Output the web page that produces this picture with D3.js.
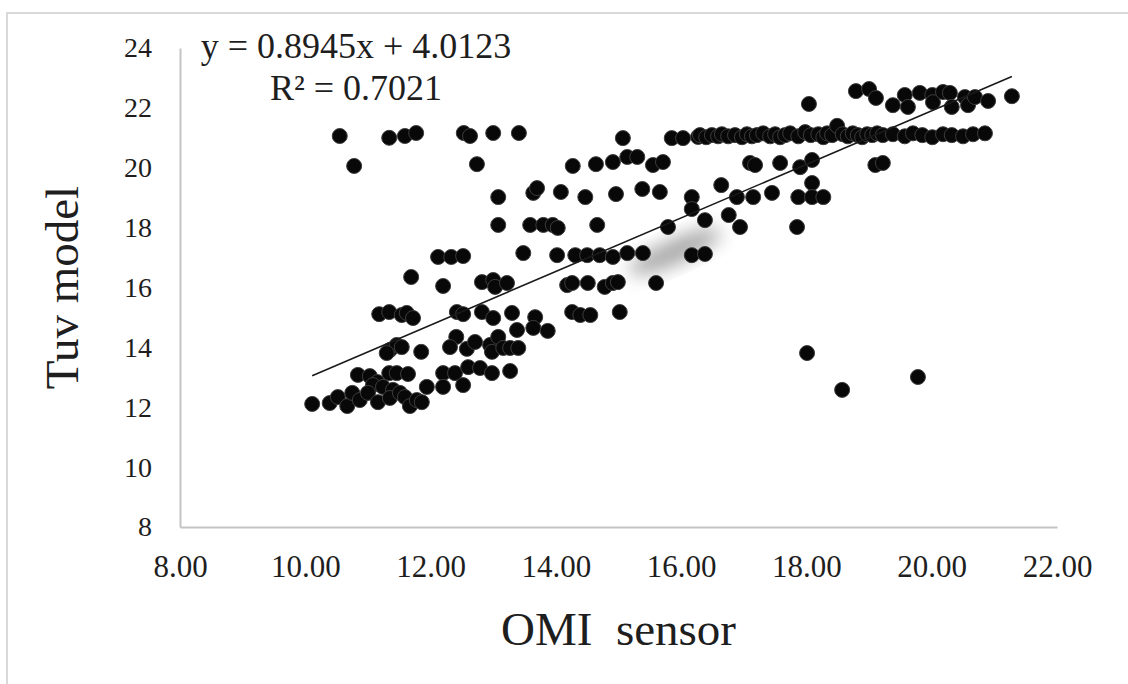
<!DOCTYPE html>
<html>
<head>
<meta charset="utf-8">
<script src="https://d3js.org/d3.v7.min.js"></script>
<style>
  body { margin: 0; background: #fff; }
  text { font-family: "Liberation Serif", "Times New Roman", serif; fill: #1e1e1e; }
</style>
</head>
<body>
<script>

// OMI sensor (x) vs Tuv model (y)
var leftOutliers = [
  [10.55,21.06],[10.78,20.06],[11.34,21.00],[11.59,21.06],[11.77,21.16],
  [12.53,21.16],[12.63,21.06],[12.74,20.12],[13.00,21.16],[13.41,21.16]
];

var midBand = [
  [13.08,19.02],[13.08,18.09],[12.12,17.02],[12.33,17.02],[12.52,17.05],
  [11.69,16.35],[12.20,16.05],[12.82,16.18],[13.00,16.25],[13.03,16.02],[13.22,16.15],
  [14.18,16.08],[14.26,16.15],[14.51,16.15],[14.78,16.02],[14.91,16.15],[14.99,16.18],[15.60,16.15],
  [14.27,20.06],[14.64,20.12],[14.91,20.19],[15.14,20.36],[15.30,20.36],[15.55,20.09],[15.71,20.19],
  [13.64,19.16],[13.70,19.32],[14.08,19.19],[14.47,19.02],[14.96,19.12],[15.38,19.29],[15.66,19.19],[16.17,19.02],
  [13.59,18.09],[13.80,18.09],[13.95,18.09],[14.03,17.99],[14.66,18.09],[15.79,18.02],[16.17,18.62],
  [13.48,17.15],[14.02,17.08],[14.31,17.08],[14.50,17.08],[14.70,17.08],[14.91,17.02],[15.14,17.15],
  [15.39,17.15],[16.17,17.08],[16.38,17.12]
];

var lowBand = [
  [11.18,15.11],[11.34,15.18],[11.54,15.08],[11.62,15.15],[11.72,14.98],[12.42,15.18],[12.52,15.11],
  [12.82,15.18],[13.00,14.98],[13.30,15.15],[13.67,15.01],[14.26,15.18],[14.39,15.08],[14.55,15.08],[15.02,15.18],
  [12.41,14.35],[12.31,14.01],[12.58,13.95],[12.71,14.18],[12.95,14.08],[12.98,13.85],[13.08,14.35],
  [11.35,13.91],[11.46,14.08],[11.54,14.01],[11.30,13.81],[11.85,13.85],[13.38,14.58],[13.64,14.65],
  [13.87,14.55],[13.16,13.98],[13.27,13.98],[13.40,13.98],
  [10.84,13.08],[11.03,13.04],[11.34,13.14],[11.46,13.14],[11.64,13.11],[11.15,12.84],[12.20,13.14],
  [12.39,13.14],[12.60,13.34],[12.79,13.31],[12.98,13.14],[12.52,12.74],[12.20,12.68],[11.94,12.68],
  [13.27,13.21],[11.08,12.74],[11.24,12.68],[11.40,12.58],
  [10.11,12.11],[10.39,12.14],[10.52,12.34],[10.67,12.04],[10.75,12.48],[10.87,12.24],[11.00,12.48],
  [11.16,12.17],[11.35,12.31],[11.51,12.48],[11.59,12.34],[11.67,12.04],[11.78,12.24],[11.86,12.17]
];

var row21 = [
  [15.07,20.99],[15.85,20.99],[16.03,20.99],[16.27,21.03],
  [16.30,21.09],[16.40,21.02],[16.49,21.09],[16.59,21.05],[16.65,21.12],[16.75,21.05],[16.86,21.09],
  [16.97,21.02],[17.05,21.12],[17.13,21.05],[17.21,21.09],[17.31,21.15],[17.42,21.05],[17.50,21.12],
  [17.58,21.02],[17.66,21.09],[17.74,21.15],[17.87,21.05],[17.98,21.19],[18.07,21.09],[18.19,21.12],
  [18.27,21.02],[18.33,21.15],[18.41,21.09],[18.49,21.40],[18.58,21.12],[18.66,21.05],[18.74,21.15],
  [18.82,21.09],[18.89,21.02],[18.97,21.12],[19.05,21.09],[19.13,21.15],[19.22,21.09],[19.38,21.12],
  [19.57,21.05],[19.70,21.15],[19.85,21.09],[20.01,21.02],[20.18,21.12],[20.32,21.09],[20.50,21.05],
  [20.66,21.12],[20.85,21.15]
];

var upperRight = [
  [18.04,22.13],[18.79,22.56],[19.00,22.63],[19.11,22.33],[19.38,22.09],[19.57,22.43],[19.62,22.03],
  [19.81,22.50],[20.01,22.43],[20.02,22.19],[20.18,22.53],[20.29,22.50],[20.32,22.03],[20.53,22.36],
  [20.58,22.09],[20.69,22.36],[20.90,22.23],[21.28,22.39],
  [17.10,20.16],[17.18,20.09],[17.58,20.16],[17.90,20.02],[18.09,20.26],[19.10,20.09],[19.22,20.16],
  [16.64,19.42],[18.09,19.49],
  [16.89,19.02],[17.15,19.02],[17.45,19.16],[17.87,19.02],[18.09,19.02],[18.27,19.02],
  [16.38,18.25],[16.76,18.42],[16.94,18.02],[17.85,18.02]
];

var rightOutliers = [[18.01,13.81],[18.57,12.58],[19.78,13.01]];

var xTicks = [8, 10, 12, 14, 16, 18, 20, 22];
var yTicks = [8, 10, 12, 14, 16, 18, 20, 22, 24];

var slope = 0.8945, intercept = 4.0123, rSquared = 0.7021;

var points = leftOutliers.concat(midBand, lowBand, row21, upperRight, rightOutliers);

var margin = {top: 48, right: 71, bottom: 157, left: 180},
    width = 1128 - margin.left - margin.right,
    height = 684 - margin.top - margin.bottom;

var svg = d3.select("body").append("svg")
    .attr("width", 1128)
    .attr("height", 684);

// outer chart border
svg.append("rect")
    .attr("x", 7).attr("y", 13)
    .attr("width", 1140).attr("height", 700)
    .attr("fill", "none")
    .attr("stroke", "#d9d9d9")
    .attr("stroke-width", 2);

var defs = svg.append("defs");
defs.append("filter").attr("id", "smudge")
    .attr("x", "-50%").attr("y", "-50%").attr("width", "200%").attr("height", "200%")
  .append("feGaussianBlur").attr("stdDeviation", 9);

var g = svg.append("g")
    .attr("transform", "translate(" + margin.left + "," + margin.top + ")");

var x = d3.scaleLinear().domain([8, 22]).range([0, width]);
var y = d3.scaleLinear().domain([8, 24]).range([height, 0]);

var xAxis = g.append("g")
    .attr("transform", "translate(0," + height + ")")
    .call(d3.axisBottom(x)
        .tickValues(xTicks)
        .tickSize(0)
        .tickPadding(28)
        .tickFormat(d3.format(".2f")));

var yAxis = g.append("g")
    .call(d3.axisLeft(y)
        .tickValues(yTicks)
        .tickSize(0)
        .tickPadding(28)
        .tickFormat(d3.format("d")));

[xAxis, yAxis].forEach(function(a) {
    a.attr("font-family", null).attr("font-size", null);
    a.select(".domain").attr("stroke", "#c4c4c4").attr("stroke-width", 2);
    a.selectAll("text").attr("fill", "#1e1e1e");
});
xAxis.selectAll("text").attr("font-size", 31);
yAxis.selectAll("text").attr("font-size", 28);

// blurry grey mark in the source image
g.append("ellipse")
    .attr("cx", x(15.9)).attr("cy", y(17.2))
    .attr("rx", 50).attr("ry", 12)
    .attr("transform", "rotate(-24," + x(15.9) + "," + y(17.2) + ")")
    .attr("fill", "#6e6e6e").attr("opacity", 0.6)
    .attr("filter", "url(#smudge)");

g.append("g")
  .selectAll("circle")
  .data(points)
  .enter().append("circle")
    .attr("cx", function(d) { return x(d[0]); })
    .attr("cy", function(d) { return y(d[1]); })
    .attr("r", 7.5)
    .attr("fill", "#080808")
    .attr("stroke", "#3c3c3c")
    .attr("stroke-width", 1);

var xExtent = d3.extent(points, function(d) { return d[0]; });

g.append("line")
    .attr("x1", x(xExtent[0]))
    .attr("y1", y(slope * xExtent[0] + intercept))
    .attr("x2", x(xExtent[1]))
    .attr("y2", y(slope * xExtent[1] + intercept))
    .attr("stroke", "#1a1a1a")
    .attr("stroke-width", 1.6);

svg.append("text")
    .attr("x", 356).attr("y", 58)
    .attr("text-anchor", "middle")
    .attr("font-size", 36)
    .text("y = " + slope + "x + " + intercept);

svg.append("text")
    .attr("x", 356).attr("y", 100)
    .attr("text-anchor", "middle")
    .attr("font-size", 36)
    .text("R\u00b2 = " + rSquared);

svg.append("text")
    .attr("x", margin.left + width / 2)
    .attr("y", 645)
    .attr("text-anchor", "middle")
    .attr("font-size", 47)
    .style("white-space", "pre")
    .text("OMI  sensor");

svg.append("text")
    .attr("transform", "translate(78," + (margin.top + height / 2) + ") rotate(-90)")
    .attr("text-anchor", "middle")
    .attr("font-size", 47)
    .text("Tuv model");

</script>
</body>
</html>
